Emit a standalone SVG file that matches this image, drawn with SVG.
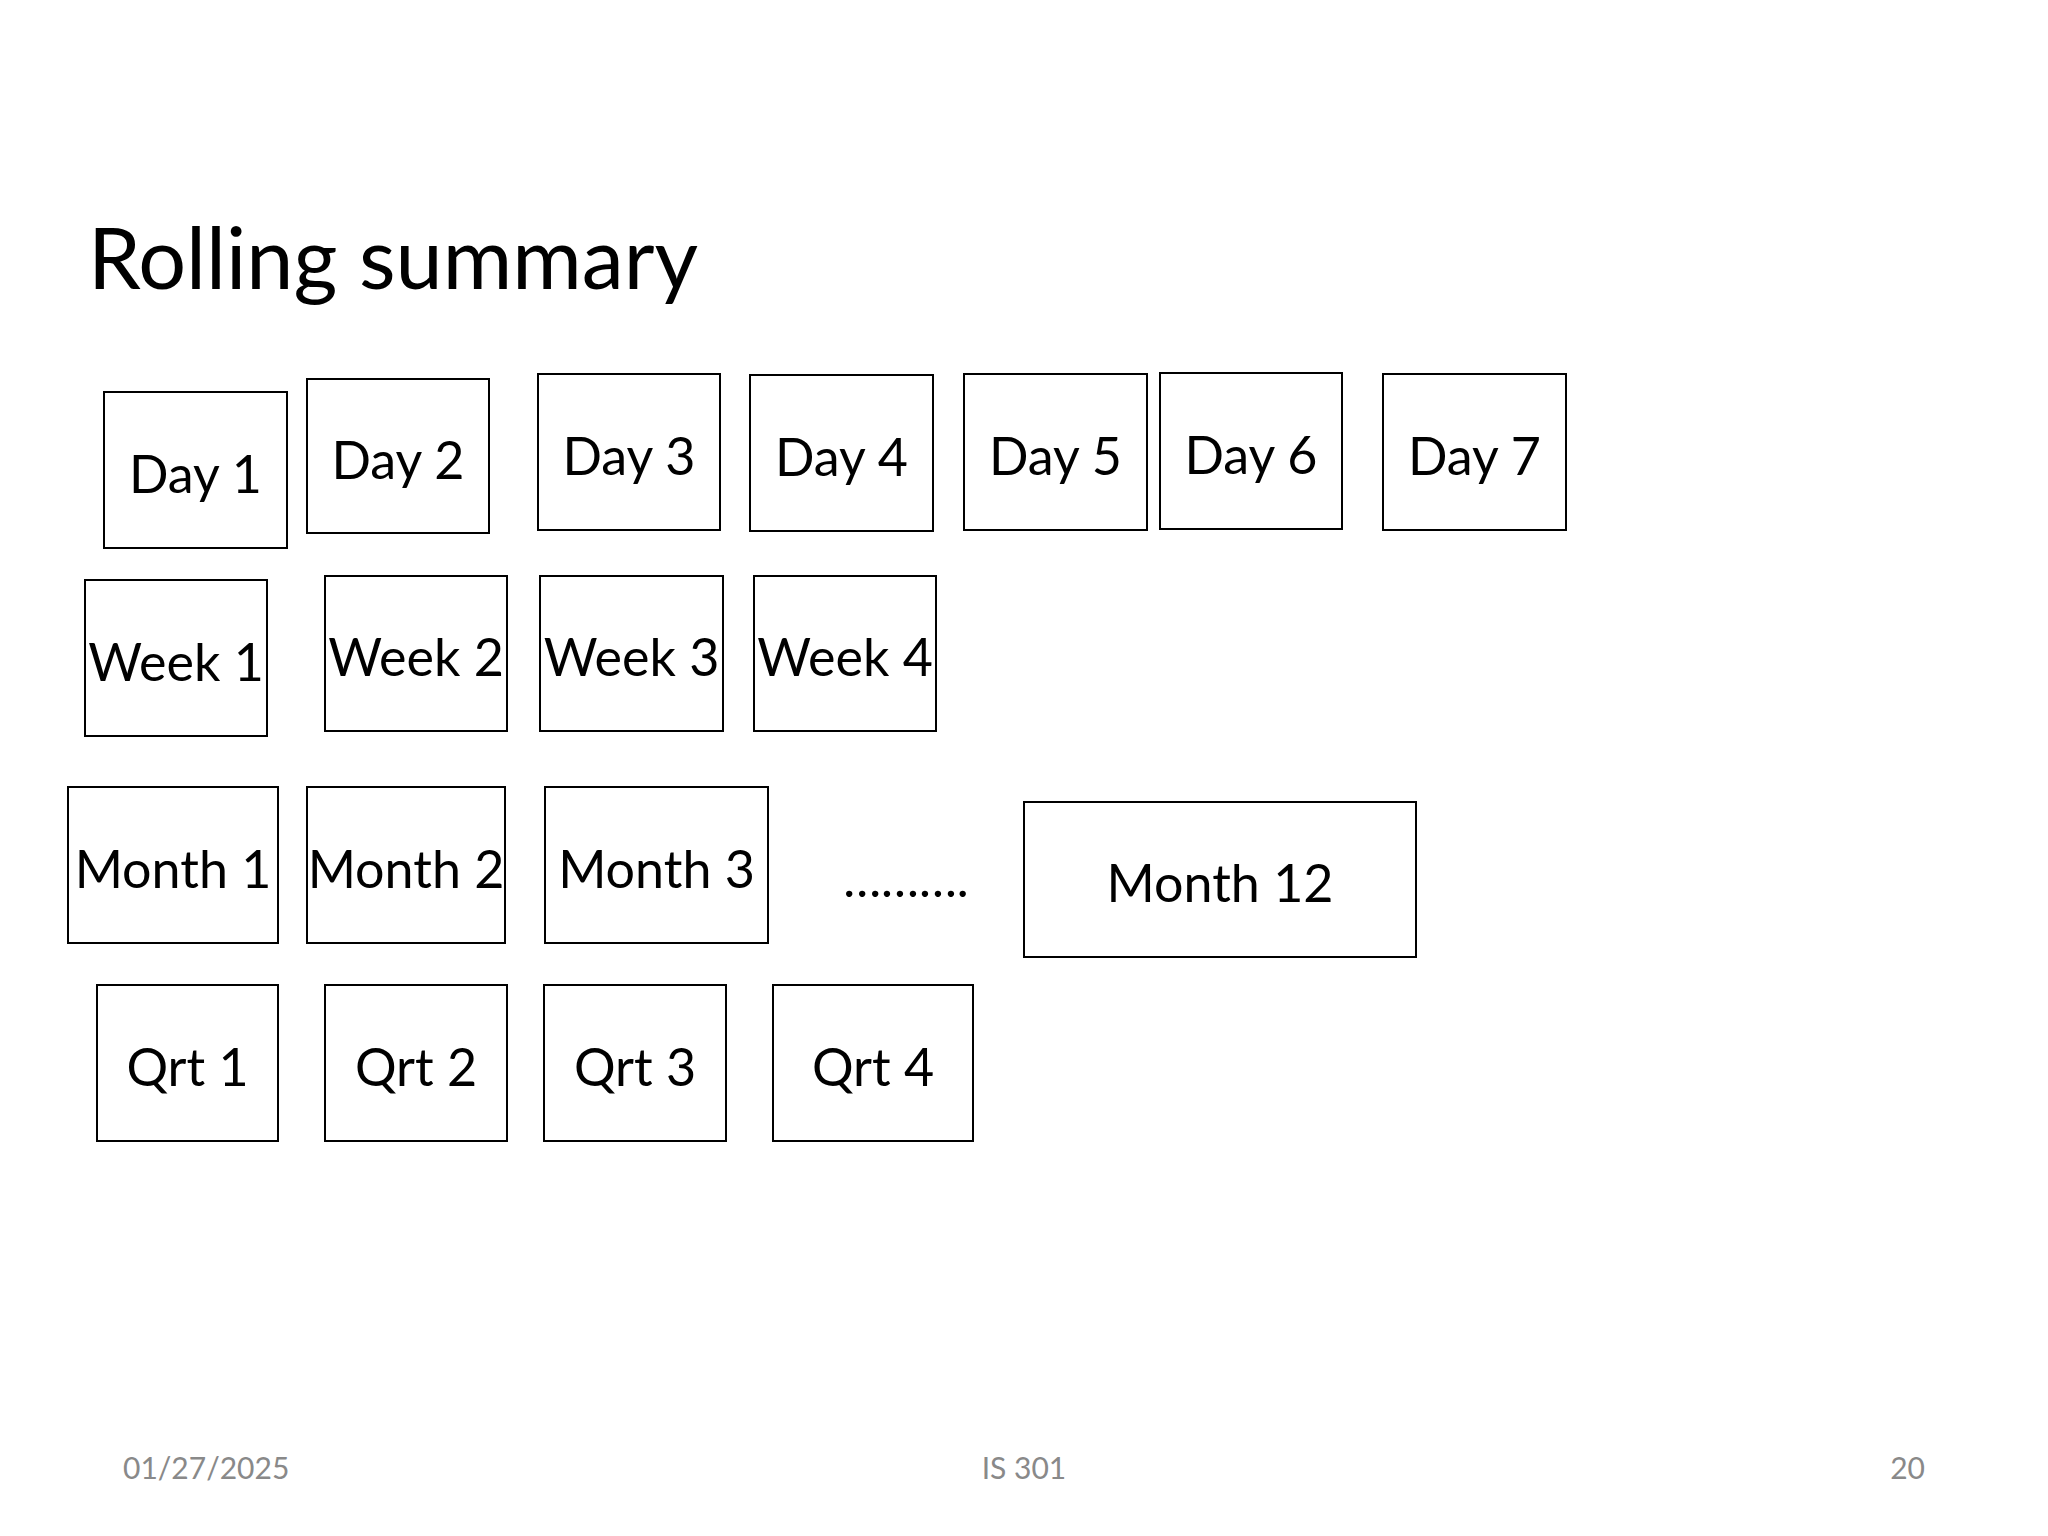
<svg xmlns="http://www.w3.org/2000/svg" width="2048" height="1536" viewBox="0 0 2048 1536">
<style>
.box{fill:#fff;stroke:#000;stroke-width:2}
.lbl{font-family:Lato,"Liberation Sans",sans-serif;font-size:52px;fill:#000;text-anchor:middle}
.title{font-family:Lato,"Liberation Sans",sans-serif;font-size:84.5px;fill:#000}
.foot{font-family:Lato,"Liberation Sans",sans-serif;font-size:30px;fill:#898989}
</style>
<rect x="0" y="0" width="2048" height="1536" fill="#fff"/>
<text class="title" x="88" y="289">Rolling summary</text>
<g id="day1"><rect class="box" x="104" y="392" width="183" height="156"/><text class="lbl" x="195.5" y="492.5">Day 1</text></g>
<g id="day2"><rect class="box" x="307" y="379" width="182" height="154"/><text class="lbl" x="398" y="478.5">Day 2</text></g>
<g id="day3"><rect class="box" x="538" y="374" width="182" height="156"/><text class="lbl" x="629" y="474.5">Day 3</text></g>
<g id="day4"><rect class="box" x="750" y="375" width="183" height="156"/><text class="lbl" x="841.5" y="475.5">Day 4</text></g>
<g id="day5"><rect class="box" x="964" y="374" width="183" height="156"/><text class="lbl" x="1055.5" y="474.5">Day 5</text></g>
<g id="day6"><rect class="box" x="1160" y="373" width="182" height="156"/><text class="lbl" x="1251" y="473.5">Day 6</text></g>
<g id="day7"><rect class="box" x="1383" y="374" width="183" height="156"/><text class="lbl" x="1474.5" y="474.5">Day 7</text></g>
<g id="week1"><rect class="box" x="85" y="580" width="182" height="156"/><text class="lbl" x="176" y="680.5">Week 1</text></g>
<g id="week2"><rect class="box" x="325" y="576" width="182" height="155"/><text class="lbl" x="416" y="676">Week 2</text></g>
<g id="week3"><rect class="box" x="540" y="576" width="183" height="155"/><text class="lbl" x="631.5" y="676">Week 3</text></g>
<g id="week4"><rect class="box" x="754" y="576" width="182" height="155"/><text class="lbl" x="845" y="676">Week 4</text></g>
<g id="month1"><rect class="box" x="68" y="787" width="210" height="156"/><text class="lbl" x="173" y="887.5">Month 1</text></g>
<g id="month2"><rect class="box" x="307" y="787" width="198" height="156"/><text class="lbl" x="406" y="887.5">Month 2</text></g>
<g id="month3"><rect class="box" x="545" y="787" width="223" height="156"/><text class="lbl" x="656.5" y="887.5">Month 3</text></g>
<g id="dots"><text class="lbl" x="906" y="897" style="font-size:50.5px">……….</text></g>
<g id="month12"><rect class="box" x="1024" y="802" width="392" height="155"/><text class="lbl" x="1220" y="902">Month 12</text></g>
<g id="qrt1"><rect class="box" x="97" y="985" width="181" height="156"/><text class="lbl" x="187.5" y="1085.5">Qrt 1</text></g>
<g id="qrt2"><rect class="box" x="325" y="985" width="182" height="156"/><text class="lbl" x="416" y="1085.5">Qrt 2</text></g>
<g id="qrt3"><rect class="box" x="544" y="985" width="182" height="156"/><text class="lbl" x="635" y="1085.5">Qrt 3</text></g>
<g id="qrt4"><rect class="box" x="773" y="985" width="200" height="156"/><text class="lbl" x="873" y="1085.5">Qrt 4</text></g>
<g id="connectors"></g>
<text class="foot" x="123" y="1479">01/27/2025</text>
<text class="foot" x="1024" y="1479" text-anchor="middle">IS 301</text>
<text class="foot" x="1925" y="1479" text-anchor="end">20</text>
</svg>
